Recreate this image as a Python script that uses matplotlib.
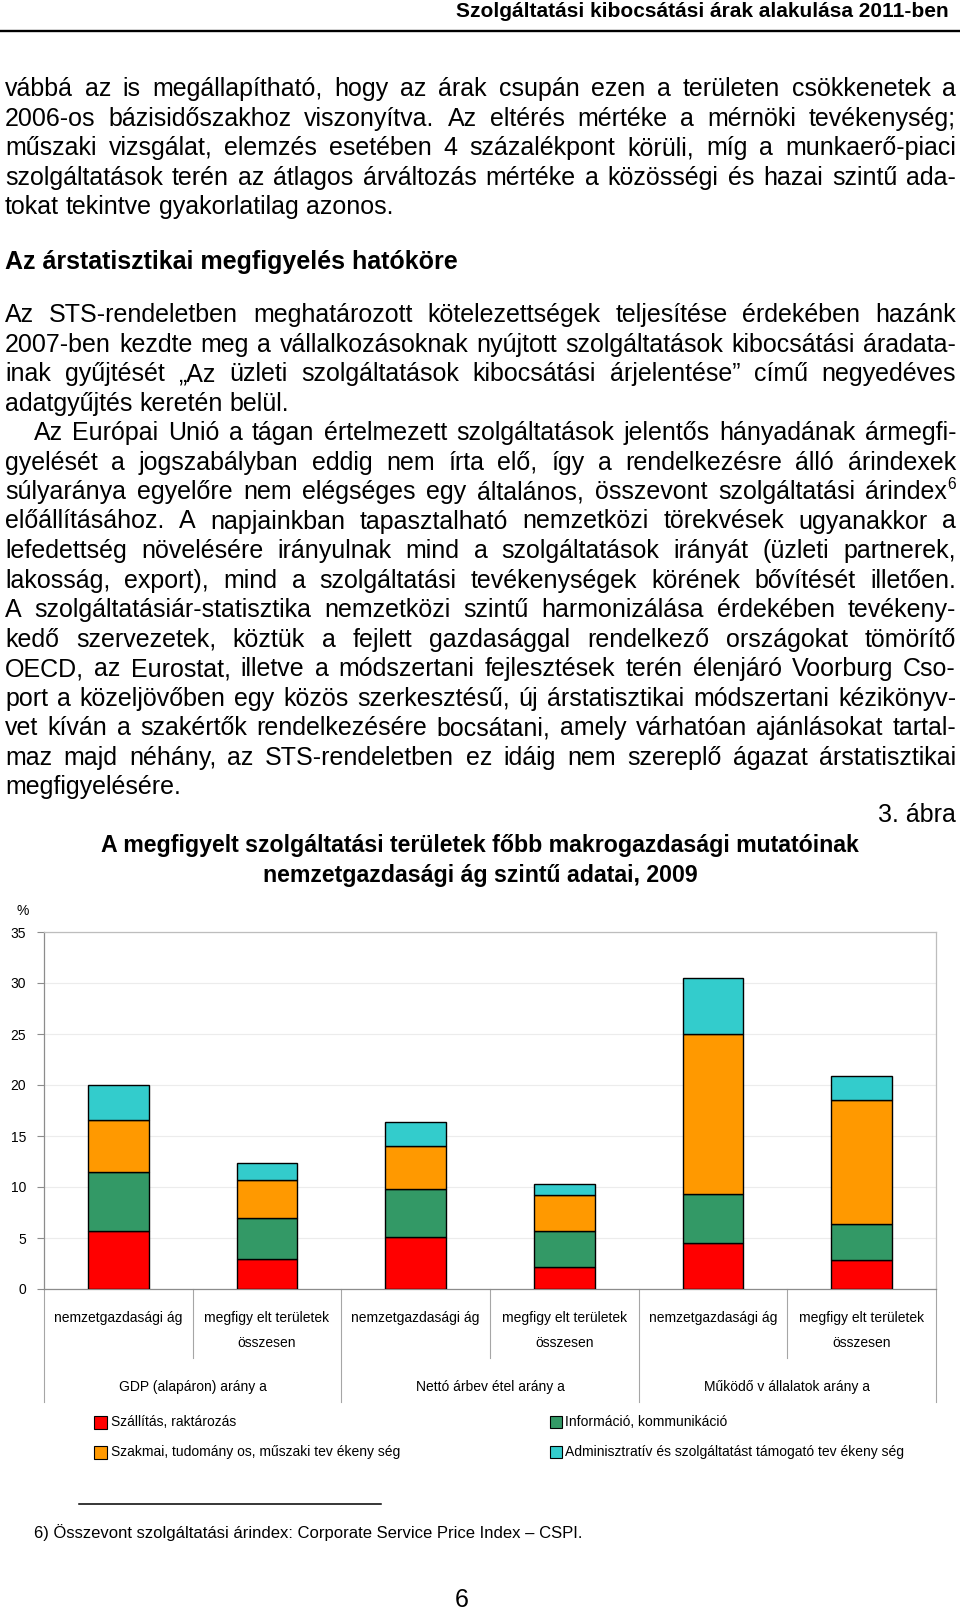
import matplotlib
matplotlib.use('Agg')
import matplotlib.pyplot as plt
from matplotlib import font_manager
from matplotlib.patches import Rectangle

plt.rcParams['font.family'] = ['Liberation Sans', 'DejaVu Sans']

# ---------------- data ----------------
group_labels = ['GDP (alapáron) arány a', 'Nettó árbev étel arány a', 'Működő v állalatok arány a']
sub_labels = ['nemzetgazdasági ág', 'megfigy elt területek\nösszesen']
series_names = ['Szállítás, raktározás', 'Információ, kommunikáció',
                'Szakmai, tudomány os, műszaki tev ékeny ség',
                'Adminisztratív és szolgáltatást támogató tev ékeny ség']
szallitas = [5.7, 2.9, 5.1, 2.2, 4.5, 2.8]
informacio = [5.8, 4.1, 4.7, 3.5, 4.8, 3.6]
szakmai = [5.1, 3.7, 4.2, 3.5, 15.7, 12.1]
adminisztrativ = [3.4, 1.7, 2.4, 1.1, 5.5, 2.4]
colors = ['#FF0000', '#339966', '#FF9900', '#33CCCC']
yticks = [0, 5, 10, 15, 20, 25, 30, 35]

header = 'Szolgáltatási kibocsátási árak alakulása 2011-ben'
para1 = ['vábbá az is megállapítható, hogy az árak csupán ezen a területen csökkenetek a',
         '2006-os bázisidőszakhoz viszonyítva. Az eltérés mértéke a mérnöki tevékenység;',
         'műszaki vizsgálat, elemzés esetében 4 százalékpont körüli, míg a munkaerő-piaci',
         'szolgáltatások terén az átlagos árváltozás mértéke a közösségi és hazai szintű ada-',
         'tokat tekintve gyakorlatilag azonos.']
heading = 'Az árstatisztikai megfigyelés hatóköre'
para2 = ['Az STS-rendeletben meghatározott kötelezettségek teljesítése érdekében hazánk',
         '2007-ben kezdte meg a vállalkozásoknak nyújtott szolgáltatások kibocsátási áradata-',
         'inak gyűjtését „Az üzleti szolgáltatások kibocsátási árjelentése” című negyedéves',
         'adatgyűjtés keretén belül.']
para3 = ['Az Európai Unió a tágan értelmezett szolgáltatások jelentős hányadának ármegfi-',
         'gyelését a jogszabályban eddig nem írta elő, így a rendelkezésre álló árindexek',
         'súlyaránya egyelőre nem elégséges egy általános, összevont szolgáltatási árindex^6',
         'előállításához. A napjainkban tapasztalható nemzetközi törekvések ugyanakkor a',
         'lefedettség növelésére irányulnak mind a szolgáltatások irányát (üzleti partnerek,',
         'lakosság, export), mind a szolgáltatási tevékenységek körének bővítését illetően.',
         'A szolgáltatásiár-statisztika nemzetközi szintű harmonizálása érdekében tevékeny-',
         'kedő szervezetek, köztük a fejlett gazdasággal rendelkező országokat tömörítő',
         'OECD, az Eurostat, illetve a módszertani fejlesztések terén élenjáró Voorburg Cso-',
         'port a közeljövőben egy közös szerkesztésű, új árstatisztikai módszertani kézikönyv-',
         'vet kíván a szakértők rendelkezésére bocsátani, amely várhatóan ajánlásokat tartal-',
         'maz majd néhány, az STS-rendeletben ez idáig nem szereplő ágazat árstatisztikai',
         'megfigyelésére.']
fig_label = '3. ábra'
title_lines = ['A megfigyelt szolgáltatási területek főbb makrogazdasági mutatóinak',
               'nemzetgazdasági ág szintű adatai, 2009']
footnote = '6) Összevont szolgáltatási árindex: Corporate Service Price Index – CSPI.'
page_no = '6'

# ---------------- fonts ----------------
available = {f.name for f in font_manager.fontManager.ttflist}
if 'Liberation Sans Narrow' in available:
    NARROW = ['Liberation Sans Narrow', 'DejaVu Sans']
    NFS = 12.2
else:
    NARROW = ['Liberation Sans', 'DejaVu Sans']
    NFS = 10.0

W, H = 960, 1609
fig = plt.figure(figsize=(W / 100, H / 100), dpi=100)
page = fig.add_axes([0, 0, 1, 1])
page.set_xlim(0, W)
page.set_ylim(H, 0)
page.axis('off')
page.patch.set_visible(False)
renderer = fig.canvas.get_renderer()

BODY = 18


def justify(line, y, x0, x1, last=False, fs=BODY, weight='normal'):
    words = line.split(' ')
    items = []
    for w in words:
        sup = None
        if '^' in w:
            w, sup = w.split('^')
        t = page.text(0, y, w, fontsize=fs, fontweight=weight, va='baseline', ha='left')
        wd = t.get_window_extent(renderer).width
        st = None
        if sup:
            st = page.text(0, y - 10, sup, fontsize=fs * 0.62, va='baseline', ha='left')
            wd2 = st.get_window_extent(renderer).width
        else:
            wd2 = 0
        items.append((t, wd, st, wd2))
    total = sum(i[1] + i[3] for i in items)
    sp = page.text(0, 0, 'a a', fontsize=fs, fontweight=weight)
    sp2 = page.text(0, 0, 'aa', fontsize=fs, fontweight=weight)
    space = sp.get_window_extent(renderer).width - sp2.get_window_extent(renderer).width
    sp.remove(); sp2.remove()
    if last or len(items) == 1:
        gap = space
    else:
        gap = (x1 - x0 - total) / (len(items) - 1)
    x = x0
    for t, wd, st, wd2 in items:
        t.set_x(x)
        if st is not None:
            st.set_x(x + wd)
        x += wd + wd2 + gap


XL, XR = 5, 956
STEP = 29.5

# header
page.text(949, 17, header, fontsize=15, fontweight='bold', ha='right', va='baseline')
page.plot([0, W], [31, 31], color='black', lw=1.7)

y = 96
for i, ln in enumerate(para1):
    justify(ln, y, XL, XR, last=(i == len(para1) - 1))
    y += STEP

page.text(XL, 269, heading, fontsize=BODY, fontweight='bold', va='baseline')

y = 322
for i, ln in enumerate(para2):
    justify(ln, y, XL, XR, last=(i == len(para2) - 1))
    y += STEP
for i, ln in enumerate(para3):
    justify(ln, y, 34 if i == 0 else XL, XR, last=(i == len(para3) - 1))
    y += STEP

page.text(XR, 822, fig_label, fontsize=BODY, ha='right', va='baseline')
page.text(480, 852, title_lines[0], fontsize=16.7, fontweight='bold', ha='center', va='baseline')
page.text(480, 882, title_lines[1], fontsize=16.7, fontweight='bold', ha='center', va='baseline')

# ---------------- chart ----------------
PL, PR, PT, PB = 44, 936, 932, 1289
ax = fig.add_axes([PL / W, (H - PB) / H, (PR - PL) / W, (PB - PT) / H])
ax.set_zorder(2)
x = list(range(len(szallitas)))
bottom = [0.0] * len(x)
for vals, col in zip([szallitas, informacio, szakmai, adminisztrativ], colors):
    ax.bar(x, vals, width=0.407, bottom=bottom, color=col, edgecolor='black', linewidth=1.0, zorder=3)
    bottom = [b + v for b, v in zip(bottom, vals)]
ax.set_xlim(-0.5, 5.5)
ax.set_ylim(0, 35)
ax.set_yticks(yticks)
ax.set_xticks([])
ax.grid(axis='y', color='#ececec', lw=0.8, zorder=0)
ax.set_axisbelow(True)
for s in ['top', 'right']:
    ax.spines[s].set_color('#bdbdbd')
for s in ['left', 'bottom']:
    ax.spines[s].set_color('#8c8c8c')
for s in ax.spines.values():
    s.set_linewidth(0.9)
ax.tick_params(axis='y', direction='out', length=5, width=0.8, color='#8c8c8c', pad=8, labelsize=NFS)
for lab in ax.get_yticklabels():
    lab.set_family(NARROW)

ph = PB - PT
def ay(py):
    return (PB - py) / ph

tr = ax.get_xaxis_transform()
for k in range(7):
    xs = k - 0.5
    yend = ay(1402) if k % 2 == 0 else ay(1358)
    ax.plot([xs, xs], [0, yend], transform=tr, clip_on=False, color='#a6a6a6', lw=0.8)

for i in range(6):
    lines = sub_labels[i % 2].split('\n')
    for j, ln in enumerate(lines):
        ax.text(i, ay(1318 + 25 * j), ln, transform=tr, ha='center', va='center',
                fontsize=NFS, family=NARROW)
for g, gl in enumerate(group_labels):
    ax.text(2 * g + 0.5, ay(1387), gl, transform=tr, ha='center', va='center',
            fontsize=NFS, family=NARROW)

page.text(23, 911, '%', ha='center', va='center', fontsize=NFS, family=NARROW)

# legend
leg_pos = [(94, 1422, 13, 111), (550, 1422, 12, 565), (94, 1452, 13, 111), (550, 1452, 12, 565)]
for (lx, ly, sz, tx), name, col in zip(leg_pos, series_names, colors):
    page.add_patch(Rectangle((lx, ly - sz / 2), sz, sz, facecolor=col, edgecolor='black', lw=0.8))
    page.text(tx, ly, name, ha='left', va='center', fontsize=NFS, family=NARROW)

# footnote
page.plot([79, 381], [1504, 1504], color='black', lw=1.1)
page.text(34, 1538, footnote, fontsize=12, va='baseline')
page.text(462, 1607, page_no, fontsize=BODY, ha='center', va='baseline')

fig.savefig('out.png', dpi=100)
